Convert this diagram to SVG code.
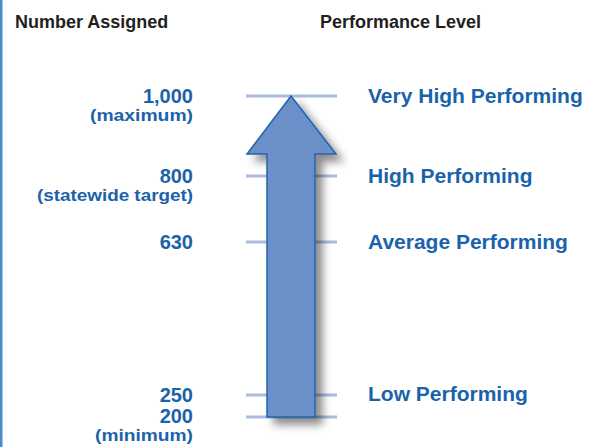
<svg xmlns="http://www.w3.org/2000/svg" width="602" height="447" viewBox="0 0 602 447">
<defs>
<style>
.hd{font-family:"Liberation Sans",Arial,sans-serif;font-weight:bold;font-size:18px;fill:#231f20}
.num{font-family:"Liberation Sans",Arial,sans-serif;font-weight:bold;font-size:20px;fill:#1a63aa;text-anchor:end}
.sub{font-family:"Liberation Sans",Arial,sans-serif;font-weight:bold;font-size:17px;fill:#1a63aa;text-anchor:end}
.lvl{font-family:"Liberation Sans",Arial,sans-serif;font-weight:bold;font-size:21px;fill:#1a63aa}
.tick{stroke:#a9bce0;stroke-width:3;fill:none}
</style>
<filter id="sh" x="-30%" y="-20%" width="160%" height="140%">
<feDropShadow dx="7" dy="7" stdDeviation="4" flood-color="#000" flood-opacity="0.45"/>
</filter>
</defs>
<rect width="602" height="447" fill="#fff"/>
<rect x="0" y="0" width="2.5" height="447" fill="#4a8cc6"/>
<g id="headers">
<text class="hd" x="15" y="28">Number Assigned</text>
<text class="hd" x="320" y="28">Performance Level</text>
</g>
<g id="connectors">
<line class="tick" x1="246" y1="96" x2="337" y2="96"/>
<line class="tick" x1="246" y1="176" x2="337" y2="176"/>
<line class="tick" x1="246" y1="242" x2="337" y2="242"/>
<line class="tick" x1="246" y1="395" x2="337" y2="395"/>
<line class="tick" x1="246" y1="417" x2="337" y2="417"/>
</g>
<g id="arrow">
<path d="M291,96 L336,154 L315,154 L315,417 L267,417 L267,154 L247,154 Z" fill="#6a8fc9" stroke="#1f64ab" stroke-width="1.5" stroke-linejoin="miter" filter="url(#sh)"/>
</g>
<g id="n1000">
<text class="num" x="193" y="103">1,000</text>
<text class="sub" x="193" y="121" textLength="103" lengthAdjust="spacingAndGlyphs">(maximum)</text>
</g>
<g id="n800">
<text class="num" x="193" y="183">800</text>
<text class="sub" x="193" y="201" textLength="156" lengthAdjust="spacingAndGlyphs">(statewide target)</text>
</g>
<g id="n630">
<text class="num" x="193" y="249">630</text>
</g>
<g id="n250">
<text class="num" x="193" y="402">250</text>
</g>
<g id="n200">
<text class="num" x="193" y="423">200</text>
<text class="sub" x="193" y="441" textLength="98" lengthAdjust="spacingAndGlyphs">(minimum)</text>
</g>
<g id="l-veryhigh"><text class="lvl" x="368" y="103">Very High Performing</text></g>
<g id="l-high"><text class="lvl" x="368" y="183">High Performing</text></g>
<g id="l-average"><text class="lvl" x="368" y="249">Average Performing</text></g>
<g id="l-low"><text class="lvl" x="368" y="401">Low Performing</text></g>
</svg>
